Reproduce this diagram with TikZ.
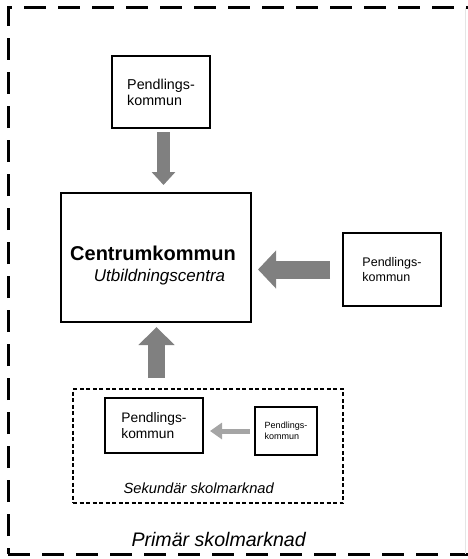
\documentclass[tikz,border=0pt]{standalone}
\usepackage{fontspec}
\setmainfont{Liberation Sans}
\usetikzlibrary{arrows.meta}

\definecolor{arrowgray}{RGB}{128,128,128}
\definecolor{lightarrow}{RGB}{165,165,165}

\tikzset{
  kommunbox/.style={draw, line width=1.8pt, inner sep=0pt, outer sep=0pt, align=left},
  marknadbox/.style={draw, line width=1.5pt, dash pattern=on 4pt off 2.5pt, inner sep=0pt, outer sep=0pt},
  pilen/.style={draw=arrowgray, line cap=butt},
}

\begin{document}
\begin{tikzpicture}[x=1pt, y=-1pt]
		\useasboundingbox (0,0) rectangle (468,559);
		
		% yttre ram
		\draw[line width=3pt, dash pattern=on 22pt off 12pt, dash phase=16pt] (8,554)--(8,8)--(468,8);
		\draw[line width=3pt, dash pattern=on 22pt off 12pt] (8,554)--(468,554);
		\draw[black!10, line width=1pt] (465,8)--(465,554);
		
		\node[kommunbox, minimum width=98pt, minimum height=72pt, font=\fontsize{14.3}{16}\selectfont] (pendtop) at (161,92) {Pendlings-\\kommun};
		\node[kommunbox, minimum width=190pt, minimum height=129pt] (centrum) at (156,257.5) {};
		\node[anchor=base, font=\fontsize{20}{24}\selectfont\bfseries] (centrumnamn) at (153,260) {Centrumkommun};
		\node[anchor=base, font=\fontsize{17}{20}\selectfont\itshape] (centrumsub) at (159.5,281.5) {Utbildningscentra};
		\node[kommunbox, minimum width=98pt, minimum height=73pt, font=\fontsize{12.5}{15}\selectfont] (pendright) at (392,269.5) {Pendlings-\\kommun};
		
		\node[marknadbox, minimum width=270pt, minimum height=114pt] (sekundar) at (208,446) {};
		\node[kommunbox, line width=1.6pt, minimum width=98pt, minimum height=55pt, font=\fontsize{13.8}{16}\selectfont] (pendinner) at (154,425.5) {Pendlings-\\kommun};
		\node[kommunbox, line width=1.6pt, minimum width=62pt, minimum height=48pt, font=\fontsize{9}{10.5}\selectfont] (pendsmall) at (286,431) {Pendlings-\\kommun};
		\node[anchor=base west, font=\fontsize{14.7}{17}\selectfont\itshape] (sekundartext) at (120,493) {Sekundär skolmarknad};
		\node[anchor=base west, font=\fontsize{19.6}{23}\selectfont\itshape] (primartext) at (128,546) {Primär skolmarknad};
		
		% pilar
		\draw[pilen, line width=13pt, -{Triangle[width=23pt,length=13pt]}, shorten <=4pt, shorten >=8pt]
			([xshift=2.5pt]pendtop.south) -- ([xshift=7.5pt]centrum.north);
		\draw[pilen, line width=18pt, -{Triangle[width=37pt,length=18pt]}, shorten <=13pt, shorten >=7pt]
			(pendright.west) -- (pendright.west -| centrum.east);
		\draw[pilen, line width=17pt, -{Triangle[width=35pt,length=18pt]}, shorten <=11pt, shorten >=5pt]
			([xshift=0.5pt]centrum.south |- sekundar.north) -- ([xshift=0.5pt]centrum.south);
		\draw[pilen, draw=lightarrow, line width=5pt, -{Triangle[width=16pt,length=12pt]}, shorten <=5pt, shorten >=7pt]
			(pendsmall.west) -- (pendsmall.west -| pendinner.east);
	\end{tikzpicture}
\end{document}
